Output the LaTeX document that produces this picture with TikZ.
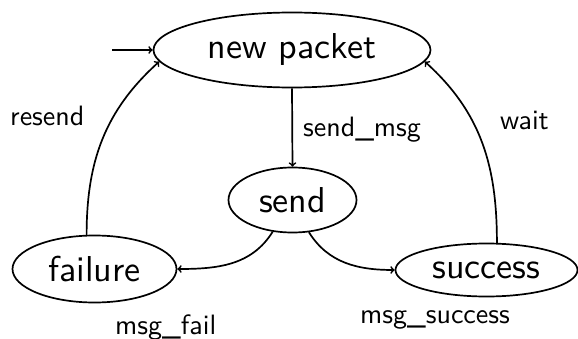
\documentclass[tikz,border=0pt]{standalone}
\usepackage{fontspec}
\usetikzlibrary{shapes.geometric}
% Latin Modern Sans at its 10pt design size, scaled up
\newfontfamily\statefont{lmsans10-regular.otf}
\tikzset{
  state/.style={draw, ellipse, line width=1.7pt, inner sep=0pt,
    font=\statefont\fontsize{36}{40}\selectfont},
  lbl/.style={anchor=base west, inner sep=0pt,
    font=\statefont\fontsize{28}{31}\selectfont},
  trans/.style={->, line width=1.7pt},
}
\begin{document}
\begin{tikzpicture}[x=1pt, y=1pt]
  \useasboundingbox (0,0) rectangle (578,338);

  % states
  \node[state, minimum width=277pt, minimum height=75pt] (np) at (292,288) {new packet};
  \node[state, minimum width=128pt, minimum height=65pt] (send) at (292.5,138) {send};
  \node[state, minimum width=164pt, minimum height=67pt] (failure) at (94.5,69) {failure};
  \node[state, minimum width=182pt, minimum height=53pt] (success) at (486.5,68) {success};

  % initial arrow
  \coordinate (init) at (112,288);
  \draw[trans] (init) -- (np.west);

  % transitions
  \draw[trans] (np.south) -- (send.north);
  \draw[trans] (send.238) to[out=-122, in=0] (failure.east);
  \draw[trans] (send.297) to[out=-58, in=180] (success.west);
  \draw[trans] (failure.103) to[out=90, in=-138] (np.185);
  \draw[trans] (success.69) to[out=90, in=-42] (np.-5);

  % transition labels
  \node[lbl] (lsend) at (303,201) {send\_msg};
  \node[lbl] (lresend) at (10,212) {resend};
  \node[lbl] (lwait) at (500,208) {wait};
  \node[lbl] (lfail) at (115,4) {msg\_fail};
  \node[lbl] (lsucc) at (360,15) {msg\_success};
\end{tikzpicture}
\end{document}
